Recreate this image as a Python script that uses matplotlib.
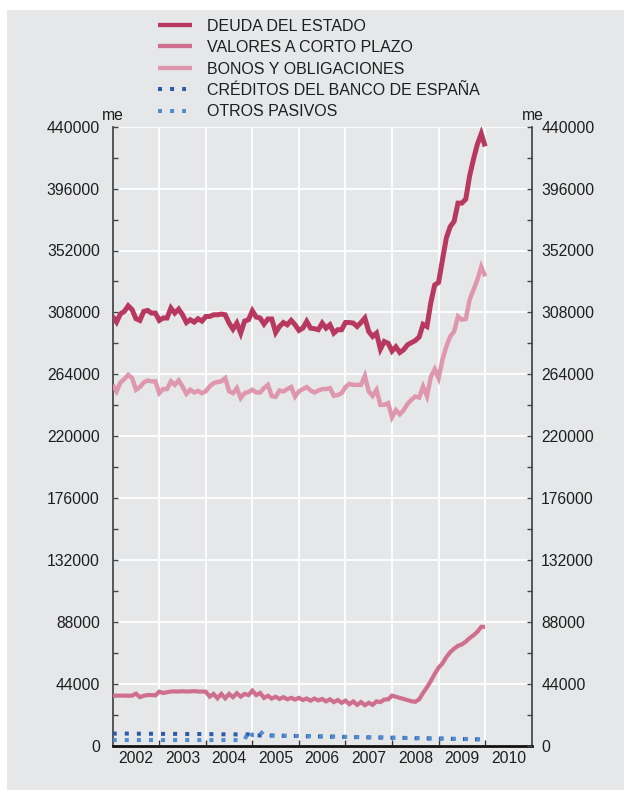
import numpy as np
import matplotlib
matplotlib.use("Agg")
import matplotlib.pyplot as plt
from matplotlib.lines import Line2D
from matplotlib.patches import Rectangle
from matplotlib.ticker import FixedLocator, FixedFormatter, MultipleLocator, NullFormatter

plt.rcParams['font.family'] = ['Liberation Sans', 'DejaVu Sans']

# Serie mensual, enero 2002 - enero 2010 (miles de millones de euros)
deuda = [
    305.1, 301.1, 307.0, 308.7, 312.7, 309.9, 303.5, 302.3, 308.7, 309.4, 307.5, 307.5,
    302.3, 304.0, 304.0, 311.1, 307.5, 310.3, 306.3, 300.8, 302.8, 301.1, 303.5, 301.8,
    305.1, 305.1, 306.3, 306.3, 306.8, 306.3, 300.4, 296.1, 300.4, 293.3, 301.8, 302.8,
    309.1, 304.7, 304.0, 299.7, 303.3, 303.3, 293.7, 298.0, 300.8, 299.2, 302.3, 299.2,
    295.2, 296.8, 301.6, 296.8, 296.4, 295.7, 300.4, 296.8, 299.2, 293.3, 295.7, 295.7,
    300.8, 300.8, 300.4, 298.0, 300.8, 304.0, 294.4, 290.9, 293.3, 281.9, 287.3, 286.0,
    280.5, 283.5, 279.5, 281.5, 285.0, 286.5, 288.0, 290.5, 299.5, 298.0, 315.0, 327.5,
    329.3, 345.4, 360.9, 369.0, 372.7, 385.7, 385.7, 388.5, 405.0, 417.0, 427.5, 435.0,
    426.0,
]
valores_corto = [
    35.5, 35.6, 35.6, 35.6, 35.5, 35.6, 37.0, 34.5, 35.5, 36.0, 36.0, 35.8,
    38.4, 37.5, 38.0, 38.5, 38.6, 38.5, 38.7, 38.5, 38.6, 38.8, 38.5, 38.5,
    38.4, 34.9, 36.8, 33.7, 36.8, 33.7, 36.8, 34.5, 37.3, 34.9, 36.8, 36.0,
    39.1, 36.0, 37.5, 34.0, 35.5, 33.5, 34.8, 33.2, 34.5, 33.0, 34.0, 32.8,
    34.0, 32.5, 33.5, 32.0, 33.5, 32.2, 33.2, 31.5, 33.0, 31.0, 32.5, 30.5,
    32.0, 29.5, 31.5, 29.0, 31.0, 28.8, 30.5, 29.0, 31.5, 31.0, 32.8, 33.0,
    35.6, 34.8, 34.0, 33.2, 32.4, 31.6, 31.2, 33.0, 37.5, 41.5, 46.0, 51.0,
    55.5, 58.5, 63.0, 66.5, 69.0, 71.0, 72.0, 74.0, 76.5, 78.5, 81.0, 84.5,
    84.5,
]
bonos = [
    256.5, 251.8, 258.2, 260.6, 263.6, 261.3, 253.0, 254.9, 258.2, 259.6, 259.0, 259.0,
    250.6, 253.5, 253.5, 259.0, 256.5, 259.6, 255.3, 250.1, 253.0, 251.1, 252.2, 250.6,
    252.0, 255.5, 257.7, 258.5, 259.0, 261.3, 252.0, 250.6, 254.2, 247.1, 250.6, 251.5,
    253.0, 251.1, 251.1, 254.2, 256.5, 248.5, 248.0, 252.5, 251.8, 253.5, 254.9, 248.2,
    251.8, 253.5, 254.9, 252.5, 251.1, 252.5, 253.5, 253.5, 254.2, 248.7, 249.3, 250.6,
    254.9, 257.2, 256.5, 256.5, 256.5, 262.9, 251.8, 248.7, 253.0, 242.3, 242.3, 243.5,
    233.5, 238.5, 235.5, 238.5, 243.0, 245.9, 248.2, 247.5, 255.3, 248.5, 262.0, 267.7,
    261.3, 274.3, 283.8, 290.9, 294.4, 305.1, 302.8, 303.3, 317.0, 324.1, 331.2, 340.5,
    333.6,
]
creditos_bde = [
    8.6, 8.6, 8.6, 8.6, 8.6, 8.6, 8.5, 8.5, 8.5, 8.5, 8.5, 8.5,
    8.4, 8.4, 8.4, 8.4, 8.4, 8.4, 8.3, 8.3, 8.3, 8.3, 8.3, 8.3,
    8.2, 8.2, 8.2, 8.2, 8.1, 8.1, 8.1, 8.1, 8.0, 8.0, 8.0, 8.0,
    7.4, 7.4, 7.3, 7.3, 7.2, 7.2, 7.1, 7.1, 7.0, 7.0, 6.9, 6.9,
    6.8, 6.8, 6.7, 6.7, 6.6, 6.6, 6.5, 6.5, 6.4, 6.4, 6.3, 6.3,
    6.2, 6.2, 6.1, 6.1, 6.0, 6.0, 5.9, 5.9, 5.8, 5.8, 5.7, 5.7,
    5.6, 5.6, 5.5, 5.5, 5.4, 5.4, 5.3, 5.3, 5.2, 5.2, 5.1, 5.1,
    5.0, 5.0, 4.9, 4.9, 4.8, 4.8, 4.7, 4.7, 4.6, 4.6, 4.5, 4.5,
    4.4,
]
otros_pasivos = [
    4.0, 4.0, 4.0, 4.0, 4.0, 4.0, 4.0, 4.0, 4.0, 4.0, 4.0, 4.0,
    4.0, 4.0, 4.0, 4.0, 4.0, 4.0, 4.0, 4.0, 4.0, 4.0, 4.0, 4.0,
    4.0, 4.0, 4.0, 4.0, 4.0, 4.0, 4.0, 4.0, 4.0, 4.0, 4.1, 10.5,
    7.5, 7.5, 10.3, 7.4, 7.3, 7.3, 7.2, 7.2, 7.1, 7.1, 7.0, 7.0,
    6.9, 6.9, 6.8, 6.8, 6.7, 6.7, 6.6, 6.6, 6.5, 6.5, 6.4, 6.4,
    6.3, 6.3, 6.2, 6.2, 6.1, 6.1, 6.0, 6.0, 5.9, 5.9, 5.8, 5.8,
    5.7, 5.7, 5.6, 5.6, 5.5, 5.5, 5.4, 5.4, 5.3, 5.3, 5.2, 5.2,
    5.1, 5.1, 5.0, 5.0, 4.9, 4.9, 4.8, 4.8, 4.7, 4.7, 4.6, 4.6,
    4.5,
]
anios = ['2002', '2003', '2004', '2005', '2006', '2007', '2008', '2009', '2010']
y_ticks = [0, 44000, 88000, 132000, 176000, 220000, 264000, 308000, 352000, 396000, 440000]

series = [
    ('DEUDA DEL ESTADO', deuda, '#b8395f', 3.6, '-'),
    ('VALORES A CORTO PLAZO', valores_corto, '#cf6f8f', 3.0, '-'),
    ('BONOS Y OBLIGACIONES', bonos, '#df97ad', 3.2, '-'),
    ('CRÉDITOS DEL BANCO DE ESPAÑA', creditos_bde, '#2c5ca9', 2.9, (0, (1, 2))),
    ('OTROS PASIVOS', otros_pasivos, '#4f8dcf', 2.9, (0, (1, 2))),
]

W, H = 631, 796
BG = '#e6e7e9'
TXT = '#1e1e1e'
FS = 11.3

fig = plt.figure(figsize=(W / 100, H / 100), dpi=100, facecolor='white')
fig.patches.append(Rectangle((7 / W, 6 / H), (624 - 7) / W, (786 - 6) / H,
                             transform=fig.transFigure, facecolor=BG,
                             edgecolor='none', zorder=-10))

ax = fig.add_axes([112.7 / W, 50.3 / H, 419.0 / W, 619.0 / H])
ax.set_facecolor('none')

n = len(deuda)
x = 2002 + np.arange(n) / 12.0
draw_order = [1, 2, 0, 3, 4]
for k in draw_order:
    label, vals, color, lw, ls = series[k]
    ax.plot(x, np.asarray(vals) * 1000, color=color, lw=lw, linestyle=ls,
            solid_joinstyle='miter', solid_capstyle='butt',
            dash_capstyle='butt', zorder=3 + k * 0.1)

ax.set_xlim(2002, 2011)
ax.set_ylim(0, 440000)

# ejes
ax.xaxis.set_major_locator(FixedLocator(list(range(2003, 2011))))
ax.xaxis.set_major_formatter(NullFormatter())
ax.xaxis.set_minor_locator(FixedLocator([int(a) + 0.5 for a in anios]))
ax.xaxis.set_minor_formatter(FixedFormatter(anios))
ax.tick_params(axis='x', which='major', direction='in', length=4, width=1.0,
               color='#333333')
ax.tick_params(axis='x', which='minor', length=0, pad=3.5, labelsize=FS,
               labelcolor=TXT)

ax.yaxis.set_major_locator(FixedLocator(y_ticks))
ax.yaxis.set_minor_locator(MultipleLocator(22000))
ax.tick_params(axis='y', which='both', direction='in', length=3.5, width=1.0,
               color='#444444', left=True, right=False, labelsize=FS,
               labelcolor=TXT, pad=9.2)
ax.yaxis.set_major_formatter(FixedFormatter([str(v) for v in y_ticks]))

ax2 = ax.twinx()
ax2.set_ylim(0, 440000)
ax2.yaxis.set_major_locator(FixedLocator(y_ticks))
ax2.yaxis.set_minor_locator(MultipleLocator(22000))
ax2.yaxis.set_major_formatter(FixedFormatter([str(v) for v in y_ticks]))
ax2.tick_params(axis='y', which='both', direction='in', length=3.5, width=1.0,
                color='#444444', labelsize=FS, labelcolor=TXT, pad=6.8)
for s in ax2.spines.values():
    s.set_visible(False)

ax.grid(which='major', color='white', lw=1.3)
ax.set_axisbelow(True)

for side in ['top']:
    ax.spines[side].set_visible(False)
ax.spines['left'].set_color('#4a4a4a')
ax.spines['left'].set_linewidth(1.3)
ax.spines['right'].set_color('#4a4a4a')
ax.spines['right'].set_linewidth(1.3)
ax.spines['bottom'].set_color('#111111')
ax.spines['bottom'].set_linewidth(2.0)
ax.spines['bottom'].set_zorder(5)

# unidades
fig.text(101.5 / W, 1 - 120 / H, 'me', ha='left', va='baseline', fontsize=FS, color=TXT)
fig.text(543.5 / W, 1 - 120 / H, 'me', ha='right', va='baseline', fontsize=FS, color=TXT)

# leyenda
row0, step = 25.0, 21.45
for i, (label, vals, color, lw, ls) in enumerate(series):
    yc = row0 + i * step
    x_end = 191.7 if ls == '-' else 186.3
    fig.add_artist(Line2D([158.3 / W, x_end / W], [1 - yc / H, 1 - yc / H],
                          transform=fig.transFigure, color=color,
                          lw=3.1 if ls == '-' else 2.9, linestyle=ls,
                          solid_capstyle='butt', dash_capstyle='butt'))
    fig.text(206.7 / W, 1 - (yc + 5.7) / H, label, ha='left', va='baseline',
             fontsize=11.5, color=TXT)

fig.savefig('out.png', dpi=100, facecolor='white')
